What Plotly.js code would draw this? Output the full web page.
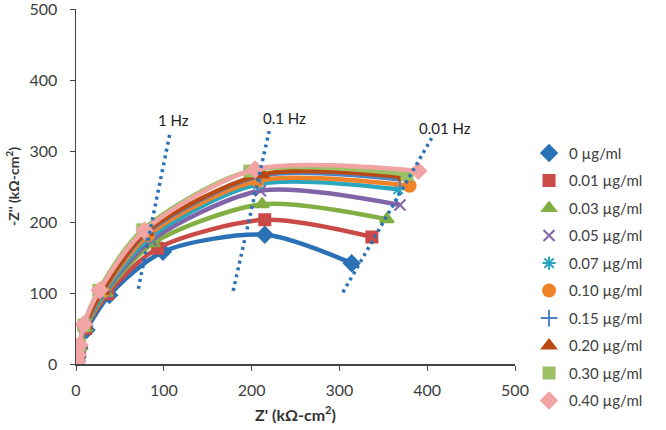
<!DOCTYPE html>
<html>
<head>
<meta charset="utf-8">
<script src="https://cdn.plot.ly/plotly-3.0.1.min.js"></script>
<style>html,body{margin:0;padding:0;background:#fff;}#chart{width:666px;height:430px;}</style>
</head>
<body>
<div id="chart"></div>
<script>
// Series names (concentration)
const seriesNames = ["0 \u00b5g/ml","0.01 \u00b5g/ml","0.03 \u00b5g/ml","0.05 \u00b5g/ml","0.07 \u00b5g/ml","0.10 \u00b5g/ml","0.15 \u00b5g/ml","0.20 \u00b5g/ml","0.30 \u00b5g/ml","0.40 \u00b5g/ml"];

// Z' values (kOhm-cm2), high -> low frequency
const zr_0    = [0.3, 1, 2, 4, 12, 38, 99, 215, 314];
const zr_001  = [0.3, 1, 2, 4, 11, 36, 93, 215, 337];
const zr_003  = [0.3, 1, 2, 4, 11, 34, 88, 212, 354];
const zr_005  = [0.3, 1, 2, 4, 10, 33, 86, 210, 369];
const zr_007  = [0.3, 1, 2, 4, 10, 32, 84, 207, 367];
const zr_010  = [0.3, 1, 2, 4, 10, 31, 82, 207, 380];
const zr_015  = [0.3, 1, 2, 4, 10, 30, 80, 210, 369];
const zr_020  = [0.3, 1, 2, 4, 10, 30, 80, 212, 375];
const zr_030  = [0.3, 1, 2, 4, 9, 26, 76, 198, 377];
const zr_040  = [0.3, 1, 2, 4, 9, 27, 78, 204, 390];

// -Z'' values (kOhm-cm2)
const zi_0    = [1, 4, 10, 22, 48, 97, 158, 182, 142];
const zi_001  = [1, 4, 11, 23, 50, 99, 163, 203, 179];
const zi_003  = [1, 4, 11, 24, 51, 100, 170, 225, 204];
const zi_005  = [1, 5, 12, 24, 52, 101, 174, 244, 224];
const zi_007  = [1, 5, 12, 25, 52, 101, 178, 253, 246];
const zi_010  = [1, 5, 12, 25, 53, 102, 181, 258, 251];
const zi_015  = [1, 5, 12, 25, 54, 102, 184, 265, 260];
const zi_020  = [1, 5, 12, 26, 54, 103, 186, 267, 263];
const zi_030  = [1, 5, 13, 27, 55, 104, 189, 272, 267];
const zi_040  = [1, 5, 13, 27, 56, 104, 188, 274, 272];

// frequency guide lines (dotted) endpoints
const freqLabels = ["1 Hz", "0.1 Hz", "0.01 Hz"];
const guide_1Hz_x   = [71, 107];
const guide_1Hz_y   = [106, 325];
const guide_01Hz_x  = [179, 220];
const guide_01Hz_y  = [103, 328];
const guide_001Hz_x = [304, 405];
const guide_001Hz_y = [101, 318];
const labelX = [111, 237, 420];
const labelY = [343, 347, 332];

const colors  = ["#2A72B5","#C94A47","#82AE43","#8064A8","#2AA7BF","#F08229","#4F82C2","#B84A12","#9DC066","#F2A3A3"];
const symbols = ["diamond","square","triangle-up","x-thin-open","asterisk-open","circle","cross-thin-open","triangle-up","square","diamond"];
const sizes   = [12,11,12,11,11,12,12,12,11,12];

const zr = [zr_0,zr_001,zr_003,zr_005,zr_007,zr_010,zr_015,zr_020,zr_030,zr_040];
const zi = [zi_0,zi_001,zi_003,zi_005,zi_007,zi_010,zi_015,zi_020,zi_030,zi_040];

const traces = [];
for (let i = 0; i < zr.length; i++) {
  traces.push({
    x: zr[i], y: zi[i], type: "scatter", mode: "lines+markers",
    line: {color: colors[i], width: 4.5, shape: "spline", smoothing: 0.8},
    marker: {symbol: symbols[i], size: sizes[i], color: colors[i], line: {color: colors[i], width: 2}},
    showlegend: false, hoverinfo: "skip", legendgroup: "g" + i
  });
}
const guides = [[guide_1Hz_x, guide_1Hz_y],[guide_01Hz_x, guide_01Hz_y],[guide_001Hz_x, guide_001Hz_y]];
guides.forEach(g => traces.push({
  x: g[0], y: g[1], type: "scatter", mode: "lines",
  line: {color: "#2A72B5", width: 3.5, dash: "3px,4px"},
  showlegend: false, hoverinfo: "skip"
}));
// legend entries (markers only)
for (let i = 0; i < zr.length; i++) {
  traces.push({
    x: [null], y: [null], type: "scatter", mode: "markers", name: seriesNames[i],
    marker: {symbol: symbols[i], size: sizes[i], color: colors[i], line: {color: colors[i], width: 2}},
    showlegend: true, legendgroup: "g" + i
  });
}

const annotations = freqLabels.map((t, i) => ({
  x: labelX[i], y: labelY[i], xref: "x", yref: "y", text: t, showarrow: false,
  font: {family: "Lato, 'Open Sans', sans-serif", size: 15, color: "#222"}
}));

const layout = {
  width: 666, height: 430,
  margin: {l: 76, r: 151, t: 9, b: 66},
  paper_bgcolor: "#fff", plot_bgcolor: "#fff",
  font: {family: "Lato, 'Open Sans', sans-serif", color: "#404040"},
  xaxis: {
    range: [0, 500], dtick: 100, showgrid: false, zeroline: false,
    showline: true, linecolor: "#444", linewidth: 1.5,
    ticks: "outside", ticklen: 5, tickcolor: "#444", tickwidth: 1,
    ticklabelstandoff: 6, ticklabeloverflow: "allow",
    tickfont: {size: 16, color: "#404040"},
    title: {text: "<b>Z' (k\u03a9-cm<sup>2</sup>)</b>", font: {size: 16, color: "#333"}, standoff: 12}
  },
  yaxis: {
    range: [0, 500], dtick: 100, showgrid: false, zeroline: false,
    showline: true, linecolor: "#444", linewidth: 1.5,
    ticks: "outside", ticklen: 5, tickcolor: "#444", tickwidth: 1,
    ticklabelstandoff: 9, ticklabeloverflow: "allow",
    tickfont: {size: 16, color: "#404040"},
    title: {text: "<b>-Z'' (k\u03a9-cm<sup>2</sup>)</b>", font: {size: 14, color: "#333"}, standoff: 6}
  },
  legend: {
    x: 1.032, xanchor: "left", y: 0.64, yanchor: "top",
    font: {size: 15, color: "#404040"}, tracegroupgap: 5,
    bgcolor: "rgba(0,0,0,0)"
  },
  annotations: annotations,
  showlegend: true
};

Plotly.newPlot("chart", traces, layout, {staticPlot: true, displayModeBar: false});
</script>
</body>
</html>
